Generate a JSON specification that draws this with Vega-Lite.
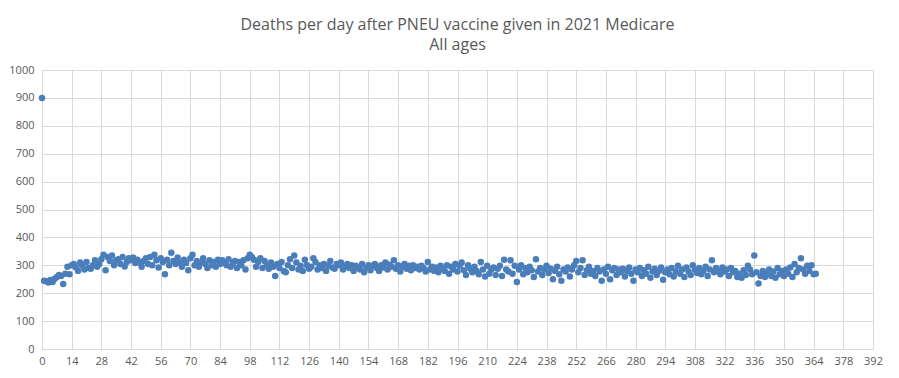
{"$schema":"https://vega.github.io/schema/vega-lite/v6.json","autosize":"none","width":831,"height":279,"padding":{"left":42,"top":70,"right":26,"bottom":29},"background":"white",
"title":{"text":["Deaths per day after PNEU vaccine given in 2021 Medicare","All ages"],"font":"Open Sans","fontSize":16,"fontWeight":"normal","color":"#595959","lineHeight":20,"anchor":"middle","offset":11},
"config":{"view":{"stroke":null},"axis":{"labelFont":"Open Sans","labelFontSize":11,"labelColor":"#595959","gridColor":"#d9d9d9","domainColor":"#d9d9d9","ticks":false,"title":null,"labelFlush":false,"labelOverlap":false}},
"data":{"values":[{"d":0,"v":900},{"d":1,"v":245},{"d":2,"v":243},{"d":3,"v":238},{"d":4,"v":247},{"d":5,"v":240},{"d":6,"v":252},{"d":7,"v":258},{"d":8,"v":265},{"d":9,"v":262},{"d":10,"v":233},{"d":11,"v":270},{"d":12,"v":295},{"d":13,"v":268},{"d":14,"v":300},
{"d":15,"v":305},{"d":16,"v":292},{"d":17,"v":280},{"d":18,"v":310},{"d":19,"v":298},{"d":20,"v":285},{"d":21,"v":312},{"d":22,"v":290},{"d":23,"v":288},{"d":24,"v":300},{"d":25,"v":318},{"d":26,"v":295},{"d":27,"v":305},{"d":28,"v":322},
{"d":29,"v":338},{"d":30,"v":282},{"d":31,"v":330},{"d":32,"v":315},{"d":33,"v":335},{"d":34,"v":300},{"d":35,"v":318},{"d":36,"v":322},{"d":37,"v":305},{"d":38,"v":330},{"d":39,"v":296},{"d":40,"v":312},{"d":41,"v":325},{"d":42,"v":318},
{"d":43,"v":328},{"d":44,"v":308},{"d":45,"v":320},{"d":46,"v":310},{"d":47,"v":295},{"d":48,"v":315},{"d":49,"v":325},{"d":50,"v":305},{"d":51,"v":330},{"d":52,"v":300},{"d":53,"v":338},{"d":54,"v":318},{"d":55,"v":292},{"d":56,"v":325},
{"d":57,"v":312},{"d":58,"v":268},{"d":59,"v":320},{"d":60,"v":300},{"d":61,"v":345},{"d":62,"v":315},{"d":63,"v":305},{"d":64,"v":328},{"d":65,"v":310},{"d":66,"v":295},{"d":67,"v":320},{"d":68,"v":308},{"d":69,"v":282},{"d":70,"v":325},
{"d":71,"v":338},{"d":72,"v":300},{"d":73,"v":315},{"d":74,"v":295},{"d":75,"v":310},{"d":76,"v":325},{"d":77,"v":305},{"d":78,"v":290},{"d":79,"v":318},{"d":80,"v":300},{"d":81,"v":312},{"d":82,"v":295},{"d":83,"v":320},{"d":84,"v":305},
{"d":85,"v":318},{"d":86,"v":310},{"d":87,"v":300},{"d":88,"v":322},{"d":89,"v":295},{"d":90,"v":308},{"d":91,"v":315},{"d":92,"v":290},{"d":93,"v":312},{"d":94,"v":300},{"d":95,"v":318},{"d":96,"v":285},{"d":97,"v":325},{"d":98,"v":338},
{"d":99,"v":330},{"d":100,"v":320},{"d":101,"v":295},{"d":102,"v":312},{"d":103,"v":325},{"d":104,"v":290},{"d":105,"v":315},{"d":106,"v":300},{"d":107,"v":288},{"d":108,"v":310},{"d":109,"v":295},{"d":110,"v":262},{"d":111,"v":305},{"d":112,"v":290},
{"d":113,"v":312},{"d":114,"v":280},{"d":115,"v":275},{"d":116,"v":300},{"d":117,"v":322},{"d":118,"v":290},{"d":119,"v":335},{"d":120,"v":310},{"d":121,"v":285},{"d":122,"v":298},{"d":123,"v":280},{"d":124,"v":320},{"d":125,"v":300},{"d":126,"v":288},
{"d":127,"v":295},{"d":128,"v":325},{"d":129,"v":312},{"d":130,"v":285},{"d":131,"v":300},{"d":132,"v":290},{"d":133,"v":305},{"d":134,"v":280},{"d":135,"v":298},{"d":136,"v":315},{"d":137,"v":292},{"d":138,"v":288},{"d":139,"v":305},{"d":140,"v":300},
{"d":141,"v":310},{"d":142,"v":285},{"d":143,"v":295},{"d":144,"v":305},{"d":145,"v":290},{"d":146,"v":300},{"d":147,"v":280},{"d":148,"v":298},{"d":149,"v":292},{"d":150,"v":285},{"d":151,"v":305},{"d":152,"v":275},{"d":153,"v":290},{"d":154,"v":300},
{"d":155,"v":282},{"d":156,"v":298},{"d":157,"v":305},{"d":158,"v":290},{"d":159,"v":280},{"d":160,"v":300},{"d":161,"v":292},{"d":162,"v":310},{"d":163,"v":285},{"d":164,"v":302},{"d":165,"v":295},{"d":166,"v":318},{"d":167,"v":288},{"d":168,"v":300},
{"d":169,"v":278},{"d":170,"v":295},{"d":171,"v":305},{"d":172,"v":288},{"d":173,"v":298},{"d":174,"v":282},{"d":175,"v":300},{"d":176,"v":290},{"d":177,"v":295},{"d":178,"v":285},{"d":179,"v":298},{"d":180,"v":290},{"d":181,"v":278},{"d":182,"v":312},
{"d":183,"v":285},{"d":184,"v":295},{"d":185,"v":280},{"d":186,"v":292},{"d":187,"v":275},{"d":188,"v":298},{"d":189,"v":288},{"d":190,"v":280},{"d":191,"v":300},{"d":192,"v":270},{"d":193,"v":295},{"d":194,"v":285},{"d":195,"v":305},{"d":196,"v":278},
{"d":197,"v":298},{"d":198,"v":310},{"d":199,"v":282},{"d":200,"v":265},{"d":201,"v":300},{"d":202,"v":288},{"d":203,"v":275},{"d":204,"v":295},{"d":205,"v":280},{"d":206,"v":268},{"d":207,"v":312},{"d":208,"v":285},{"d":209,"v":260},{"d":210,"v":298},
{"d":211,"v":270},{"d":212,"v":285},{"d":213,"v":292},{"d":214,"v":265},{"d":215,"v":288},{"d":216,"v":298},{"d":217,"v":262},{"d":218,"v":320},{"d":219,"v":285},{"d":220,"v":278},{"d":221,"v":318},{"d":222,"v":270},{"d":223,"v":298},{"d":224,"v":240},
{"d":225,"v":285},{"d":226,"v":300},{"d":227,"v":268},{"d":228,"v":290},{"d":229,"v":275},{"d":230,"v":295},{"d":231,"v":282},{"d":232,"v":258},{"d":233,"v":322},{"d":234,"v":278},{"d":235,"v":290},{"d":236,"v":265},{"d":237,"v":285},{"d":238,"v":298},
{"d":239,"v":272},{"d":240,"v":288},{"d":241,"v":250},{"d":242,"v":280},{"d":243,"v":295},{"d":244,"v":268},{"d":245,"v":245},{"d":246,"v":285},{"d":247,"v":278},{"d":248,"v":292},{"d":249,"v":260},{"d":250,"v":285},{"d":251,"v":300},{"d":252,"v":315},
{"d":253,"v":275},{"d":254,"v":290},{"d":255,"v":318},{"d":256,"v":265},{"d":257,"v":282},{"d":258,"v":295},{"d":259,"v":270},{"d":260,"v":280},{"d":261,"v":262},{"d":262,"v":290},{"d":263,"v":278},{"d":264,"v":245},{"d":265,"v":285},{"d":266,"v":270},
{"d":267,"v":295},{"d":268,"v":250},{"d":269,"v":282},{"d":270,"v":290},{"d":271,"v":265},{"d":272,"v":285},{"d":273,"v":275},{"d":274,"v":288},{"d":275,"v":260},{"d":276,"v":280},{"d":277,"v":292},{"d":278,"v":270},{"d":279,"v":245},{"d":280,"v":285},
{"d":281,"v":275},{"d":282,"v":290},{"d":283,"v":262},{"d":284,"v":282},{"d":285,"v":270},{"d":286,"v":295},{"d":287,"v":255},{"d":288,"v":278},{"d":289,"v":288},{"d":290,"v":265},{"d":291,"v":280},{"d":292,"v":292},{"d":293,"v":248},{"d":294,"v":275},
{"d":295,"v":285},{"d":296,"v":268},{"d":297,"v":290},{"d":298,"v":260},{"d":299,"v":278},{"d":300,"v":298},{"d":301,"v":270},{"d":302,"v":285},{"d":303,"v":258},{"d":304,"v":292},{"d":305,"v":278},{"d":306,"v":265},{"d":307,"v":300},{"d":308,"v":285},
{"d":309,"v":272},{"d":310,"v":290},{"d":311,"v":268},{"d":312,"v":280},{"d":313,"v":295},{"d":314,"v":262},{"d":315,"v":285},{"d":316,"v":318},{"d":317,"v":275},{"d":318,"v":290},{"d":319,"v":280},{"d":320,"v":268},{"d":321,"v":292},{"d":322,"v":278},
{"d":323,"v":285},{"d":324,"v":262},{"d":325,"v":290},{"d":326,"v":275},{"d":327,"v":280},{"d":328,"v":258},{"d":329,"v":270},{"d":330,"v":255},{"d":331,"v":282},{"d":332,"v":265},{"d":333,"v":298},{"d":334,"v":285},{"d":335,"v":268},{"d":336,"v":335},
{"d":337,"v":275},{"d":338,"v":235},{"d":339,"v":262},{"d":340,"v":280},{"d":341,"v":258},{"d":342,"v":270},{"d":343,"v":285},{"d":344,"v":262},{"d":345,"v":278},{"d":346,"v":255},{"d":347,"v":290},{"d":348,"v":268},{"d":349,"v":280},{"d":350,"v":262},
{"d":351,"v":285},{"d":352,"v":270},{"d":353,"v":292},{"d":354,"v":258},{"d":355,"v":305},{"d":356,"v":275},{"d":357,"v":290},{"d":358,"v":325},{"d":359,"v":285},{"d":360,"v":270},{"d":361,"v":298},{"d":362,"v":280},{"d":363,"v":300},{"d":364,"v":268},{"d":365,"v":270}]},
"mark":{"type":"circle","size":42,"opacity":1,"color":"#4a7ebb"},
"encoding":{
"x":{"field":"d","type":"quantitative","scale":{"domain":[0,392],"nice":false},"axis":{"values":[0,14,28,42,56,70,84,98,112,126,140,154,168,182,196,210,224,238,252,266,280,294,308,322,336,350,364,378,392],"labelPadding":6,"domain":true}},
"y":{"field":"v","type":"quantitative","scale":{"domain":[0,1000],"nice":false},"axis":{"values":[0,100,200,300,400,500,600,700,800,900,1000],"format":"d","labelPadding":8,"domain":false}}}}
